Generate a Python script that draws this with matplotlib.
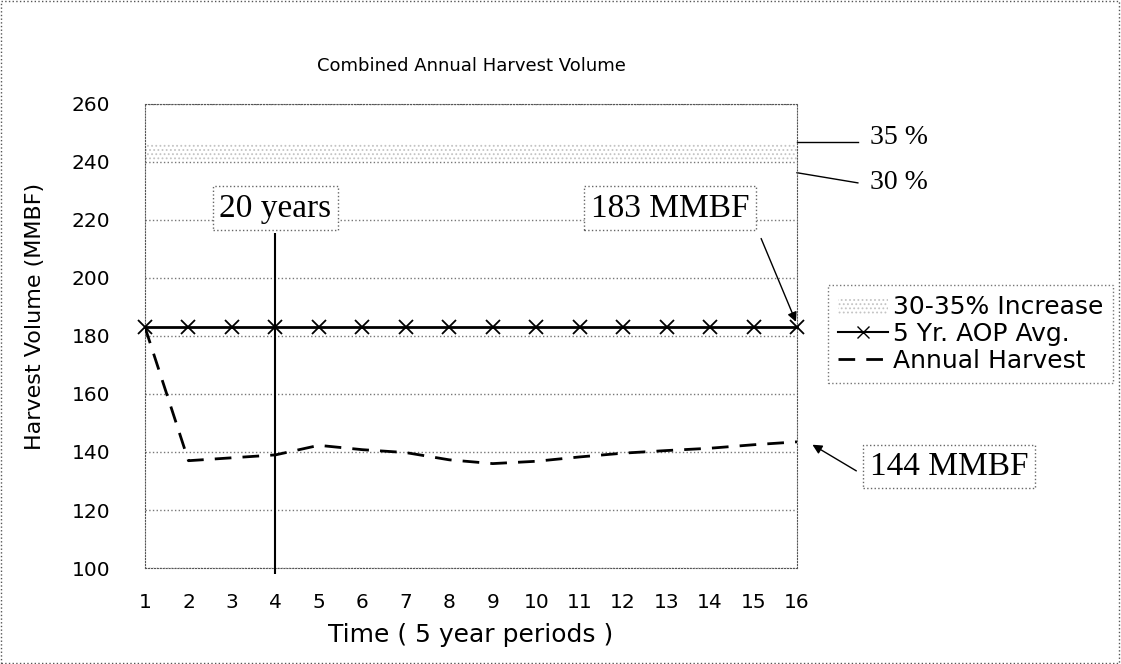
import matplotlib.pyplot as plt
from matplotlib.patches import Patch, Rectangle
from matplotlib.lines import Line2D

plt.rcParams['font.family'] = 'DejaVu Sans'
plt.rcParams['hatch.linewidth'] = 0.8

# data
periods = list(range(1, 17))
aop_avg = [183] * 16
annual_harvest = [183, 137, 138, 139, 142.3, 140.8, 139.8, 137.3, 136, 136.8,
                  138.3, 139.6, 140.5, 141.3, 142.5, 143.5]
band_low = 240.5   # 30 % increase
band_high = 246.5  # 35 % increase
milestone = 4      # 20 years
serif = 'Liberation Serif'

fig = plt.figure(figsize=(11.21, 6.64), dpi=100)
W, H = 1121, 664
ax = fig.add_axes([145 / W, 1 - 568 / H, (797 - 145) / W, (568 - 104) / H])

# 30-35% band
ax.fill_between([periods[0], periods[-1]], band_low, band_high, facecolor='none',
                edgecolor='#c4c4c4', hatch='....', linewidth=0)

ax.plot(periods, aop_avg, color='black', lw=2, marker='x', ms=10, mew=1.3,
        clip_on=False, zorder=4)
ax.plot(periods, annual_harvest, color='black', lw=2, ls=(0, (6, 4)), zorder=4)

# 20 year marker
ax.vlines(milestone, 98, 215.5, color='black', lw=1.5, clip_on=False, zorder=5)

box = dict(boxstyle='square,pad=0.2', fc='white', ec='#666666', ls=':', lw=1)
ax.text(milestone, 224, '20 years', ha='center', va='center', fontsize=24,
        family=serif, bbox=box, zorder=6)
ax.text(13.08, 224, '183 MMBF', ha='center', va='center', fontsize=24,
        family=serif, bbox=box, zorder=6)
ax.annotate('', xy=(16, 184), xytext=(15.15, 214.5), annotation_clip=False,
            arrowprops=dict(arrowstyle='-|>', color='black', lw=1, mutation_scale=14))

ax.text(19.5, 135, '144 MMBF', ha='center', va='center', fontsize=24,
        family=serif, bbox=box, clip_on=False)
ax.annotate('', xy=(16.3, 143), xytext=(17.42, 133), annotation_clip=False,
            arrowprops=dict(arrowstyle='-|>', color='black', lw=1, mutation_scale=14))

# percentage callouts
ax.plot([16, 17.4], [247, 247], color='black', lw=1, clip_on=False)
ax.text(17.68, 248.3, '35 %', ha='left', va='center', fontsize=20, family=serif)
ax.plot([16, 17.4], [236.3, 232.8], color='black', lw=1, clip_on=False)
ax.text(17.68, 232.8, '30 %', ha='left', va='center', fontsize=20, family=serif)

ax.set_xlim(1, 16)
ax.set_ylim(100, 260)
ax.set_xticks(periods)
ax.set_yticks(range(100, 261, 20))
ax.tick_params(axis='both', length=0, labelsize=14.5)
ax.tick_params(axis='x', pad=18)
ax.tick_params(axis='y', pad=25)
ax.yaxis.grid(True, linestyle=':', color='#777777', lw=1)
for s in ax.spines.values():
    s.set_linestyle(':')
    s.set_color('#555555')

ax.set_title('Combined Annual Harvest Volume', fontsize=13, pad=24)
ax.set_xlabel('Time ( 5 year periods )', fontsize=18, labelpad=8)
ax.set_ylabel('Harvest Volume (MMBF)', fontsize=16)
ax.yaxis.set_label_coords(-0.153, 0.543)

handles = [Patch(facecolor='white', edgecolor='#c4c4c4', hatch='....', lw=0),
           Line2D([], [], color='black', lw=1.5, marker='x', ms=9),
           Line2D([], [], color='black', lw=2, ls=(0, (6, 4)))]
labels = ['30-35% Increase', '5 Yr. AOP Avg.', 'Annual Harvest']
leg = fig.legend(handles, labels, loc='upper left', bbox_to_anchor=(828 / W, 1 - 285 / H),
                 fontsize=18, frameon=True, fancybox=False, borderpad=0.4,
                 handlelength=2.0, handletextpad=0.2, labelspacing=0.12, borderaxespad=0)
leg.get_frame().set_linestyle(':')
leg.get_frame().set_edgecolor('#555555')

fig.add_artist(Rectangle((0.001, 0.001), 0.997, 0.997, transform=fig.transFigure,
                         fill=False, ls=':', ec='#555555', lw=1))

fig.savefig('out.png', dpi=100)
